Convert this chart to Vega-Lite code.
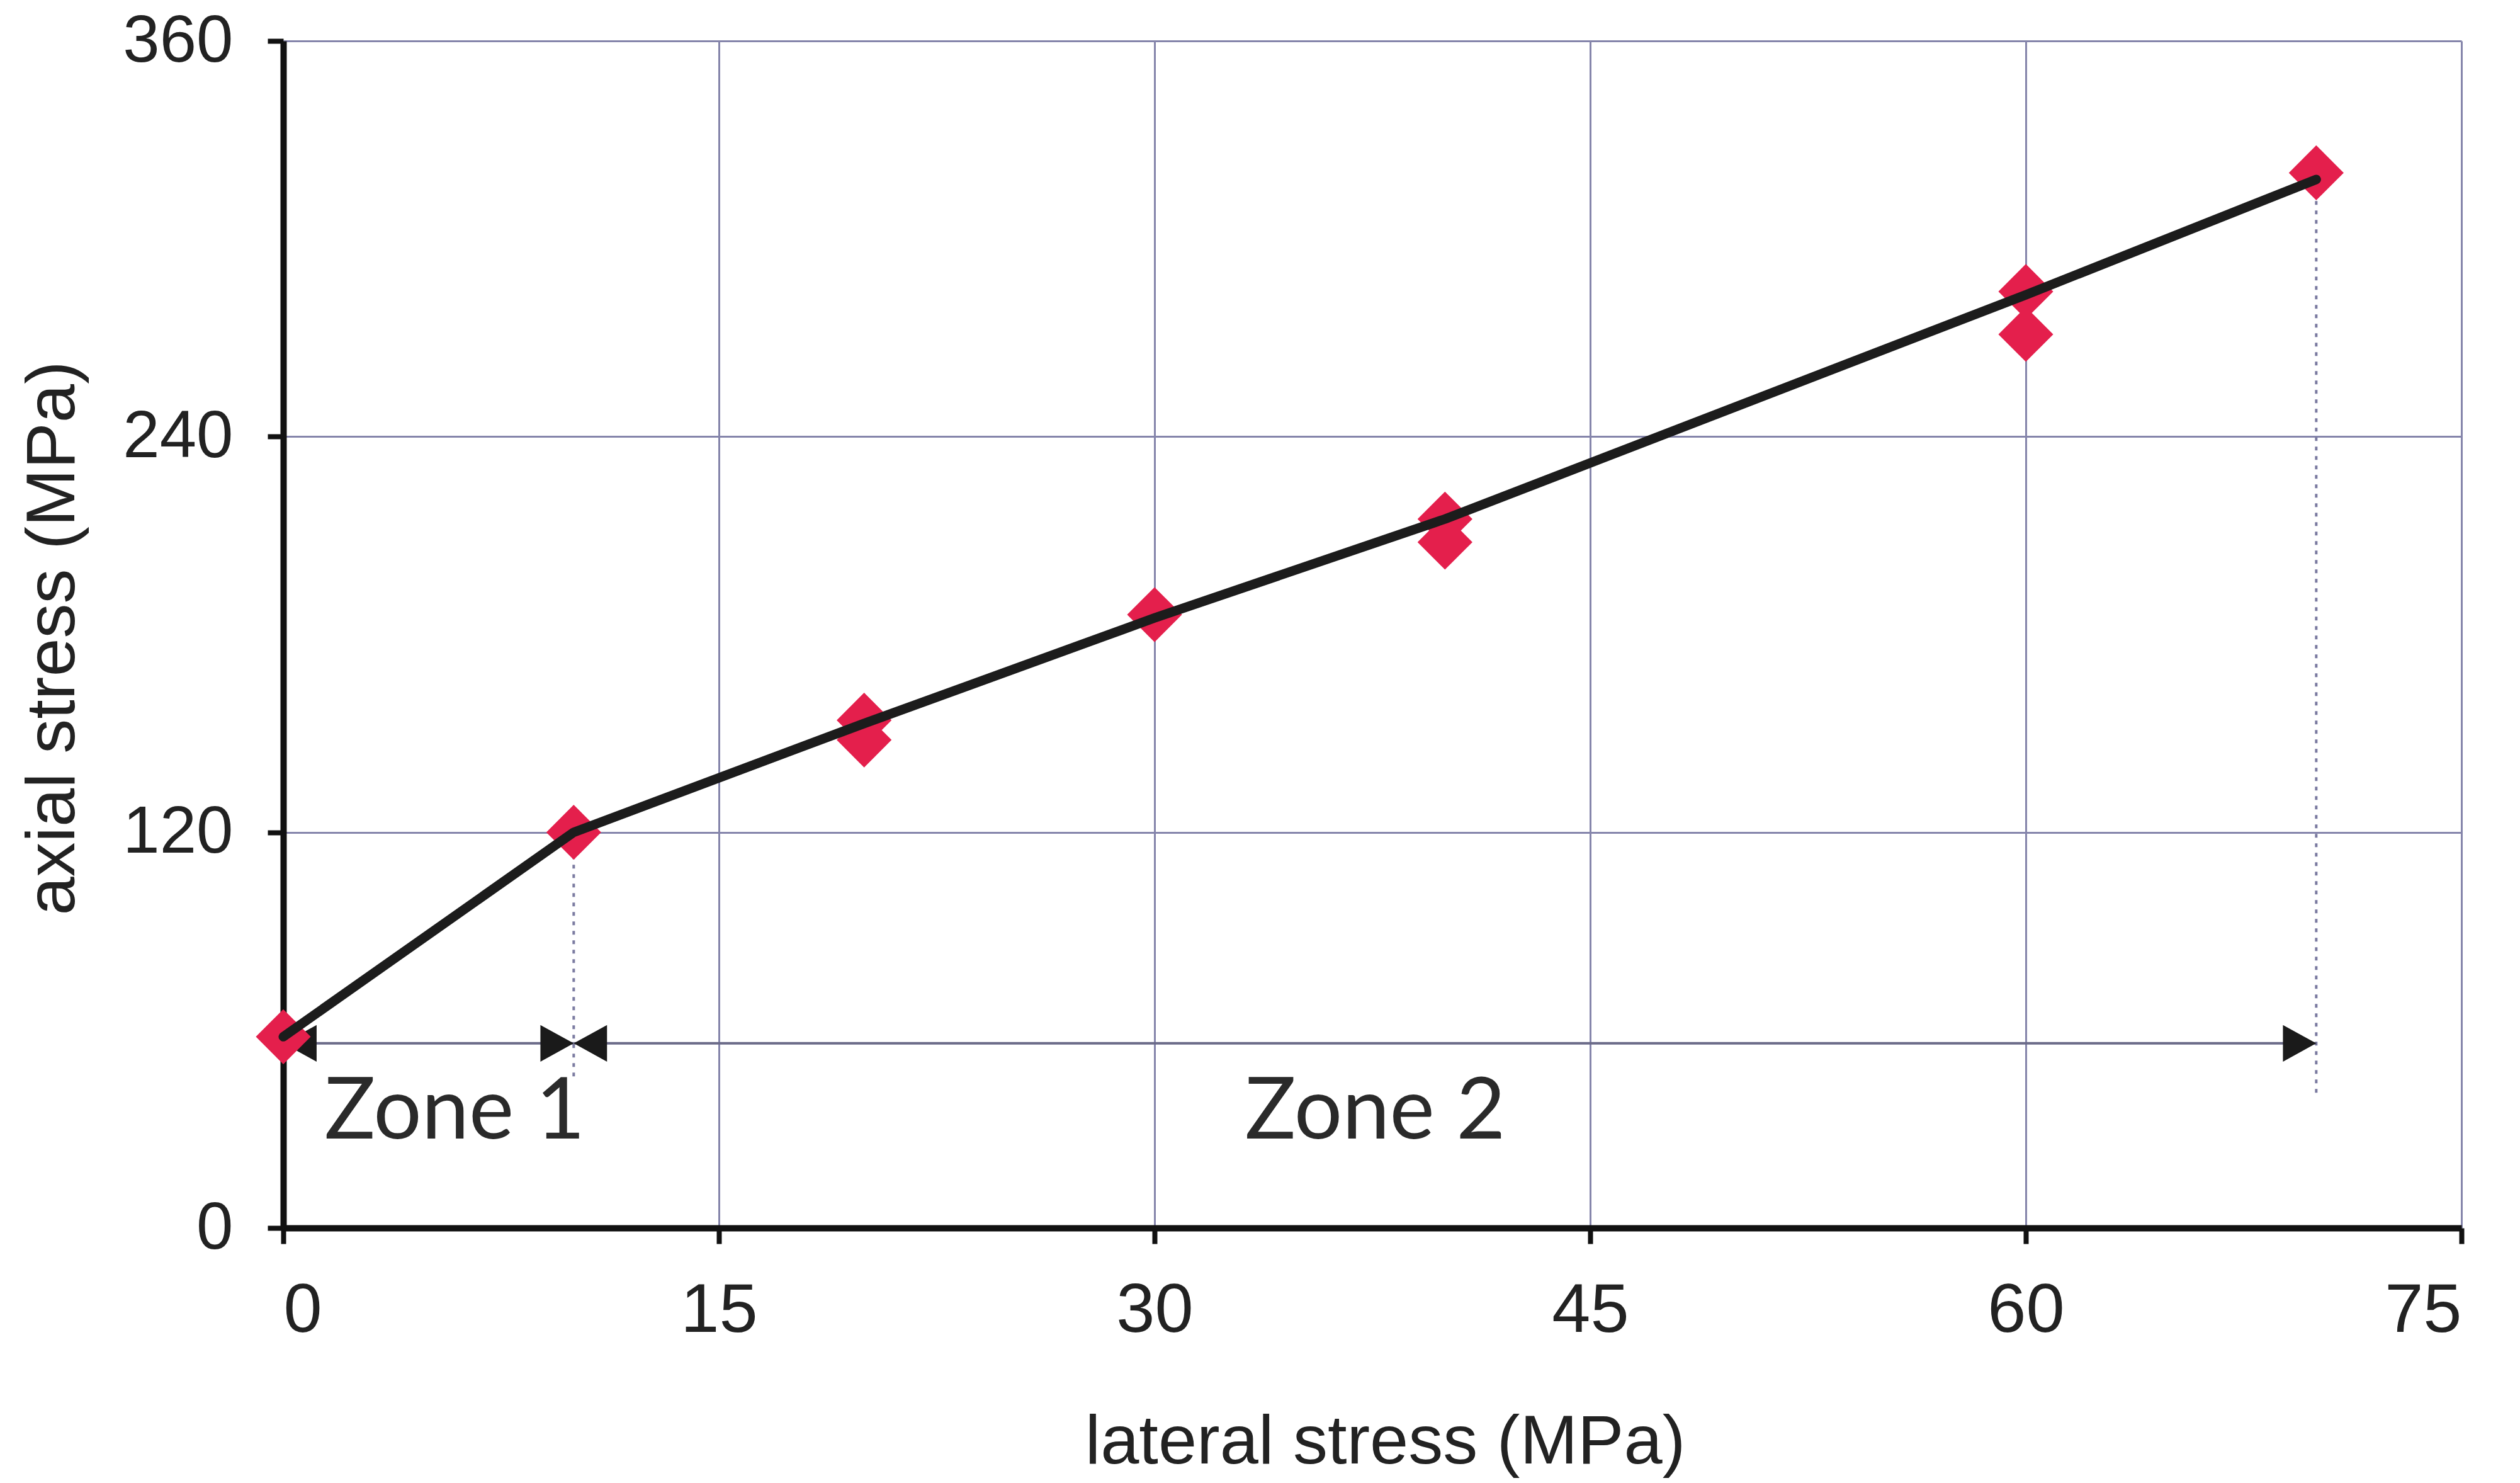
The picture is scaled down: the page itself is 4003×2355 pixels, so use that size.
{
  "$schema": "https://vega.github.io/schema/vega-lite/v6.json",
  "autosize": {"type": "none"},
  "width": 3460,
  "height": 1885,
  "padding": {"left": 450, "top": 65, "right": 93, "bottom": 405},
  "background": "white",
  "config": {
    "view": {"stroke": null},
    "axis": {
      "labelFont": "Liberation Sans",
      "titleFont": "Liberation Sans",
      "labelFontSize": 105,
      "titleFontSize": 110,
      "titleFontWeight": "normal",
      "labelColor": "#222222",
      "titleColor": "#222222",
      "domainColor": "#111111",
      "domainWidth": 10,
      "tickColor": "#111111",
      "tickWidth": 8,
      "tickSize": 25,
      "gridColor": "#8585ab",
      "gridWidth": 3,
      "gridOpacity": 1
    }
  },
  "datasets": {
    "measured": [
      {"lateral": 0, "axial": 58},
      {"lateral": 10, "axial": 120},
      {"lateral": 20, "axial": 154},
      {"lateral": 20, "axial": 148},
      {"lateral": 30, "axial": 186},
      {"lateral": 40, "axial": 215},
      {"lateral": 40, "axial": 208},
      {"lateral": 60, "axial": 284},
      {"lateral": 60, "axial": 271},
      {"lateral": 70, "axial": 320}
    ],
    "trend": [
      {"lateral": 0, "axial": 58},
      {"lateral": 10, "axial": 120},
      {"lateral": 20, "axial": 153},
      {"lateral": 30, "axial": 185},
      {"lateral": 40, "axial": 215},
      {"lateral": 60, "axial": 283},
      {"lateral": 70, "axial": 318}
    ],
    "zones": [
      {"zone": "Zone 1", "start": 0, "end": 10, "level": 56, "mid": 5.9, "labelY": 35},
      {"zone": "Zone 2", "start": 10, "end": 70, "level": 56, "mid": 37.6, "labelY": 35}
    ],
    "heads": [
      {"lateral": 0, "level": 56, "dir": "left"},
      {"lateral": 10, "level": 56, "dir": "right"},
      {"lateral": 10, "level": 56, "dir": "left"},
      {"lateral": 70, "level": 56, "dir": "right"}
    ],
    "bounds": [
      {"lateral": 10, "low": 46, "high": 120},
      {"lateral": 70, "low": 41, "high": 320}
    ]
  },
  "layer": [
    {
      "data": {"name": "bounds"},
      "mark": {"type": "rule", "color": "#7a7aa0", "strokeWidth": 4, "strokeDash": [6, 9]},
      "encoding": {
        "x": {"field": "lateral", "type": "quantitative", "scale": {"domain": [0, 75], "nice": false},
          "axis": {"values": [0, 15, 30, 45, 60, 75], "title": "lateral stress (MPa)", "grid": true,
            "labelFontSize": 110, "labelPadding": 52,
            "titleX": 1750, "titleY": 340, "titleBaseline": "middle", "titleAlign": "center"}},
        "y": {"field": "low", "type": "quantitative", "scale": {"domain": [0, 360], "nice": false},
          "axis": {"values": [0, 120, 240, 360], "title": "axial stress (MPa)", "grid": true, "labelPadding": 55,
            "titleX": -366, "titleY": 948, "titleBaseline": "middle", "titleAlign": "center", "titleAngle": 270}},
        "y2": {"field": "high"}
      }
    },
    {
      "data": {"name": "zones"},
      "mark": {"type": "rule", "color": "#6a6a88", "strokeWidth": 4},
      "encoding": {
        "x": {"field": "start", "type": "quantitative"},
        "x2": {"field": "end"},
        "y": {"field": "level", "type": "quantitative"}
      }
    },
    {
      "data": {"name": "heads"},
      "mark": {"type": "point", "filled": true, "color": "#1a1a1a", "opacity": 1, "size": 2800, "strokeWidth": 0},
      "encoding": {
        "x": {"field": "lateral", "type": "quantitative"},
        "y": {"field": "level", "type": "quantitative"},
        "shape": {"field": "dir", "type": "nominal", "legend": null,
          "scale": {"domain": ["left", "right"], "range": ["M0,0L2,-1.1L2,1.1Z", "M0,0L-2,-1.1L-2,1.1Z"]}}
      }
    },
    {
      "data": {"name": "measured"},
      "mark": {"type": "point", "shape": "diamond", "filled": true, "color": "#e41f4c", "opacity": 1, "size": 7600, "strokeWidth": 0},
      "encoding": {
        "x": {"field": "lateral", "type": "quantitative"},
        "y": {"field": "axial", "type": "quantitative"}
      }
    },
    {
      "data": {"name": "trend"},
      "mark": {"type": "line", "color": "#1c1c1c", "strokeWidth": 15, "strokeJoin": "round", "strokeCap": "round"},
      "encoding": {
        "x": {"field": "lateral", "type": "quantitative"},
        "y": {"field": "axial", "type": "quantitative"}
      }
    },
    {
      "data": {"name": "zones"},
      "mark": {"type": "text", "font": "Lato", "fontSize": 135, "color": "#2a2a2a", "align": "center", "baseline": "middle"},
      "encoding": {
        "x": {"field": "mid", "type": "quantitative"},
        "y": {"field": "labelY", "type": "quantitative"},
        "text": {"field": "zone"}
      }
    }
  ]
}
